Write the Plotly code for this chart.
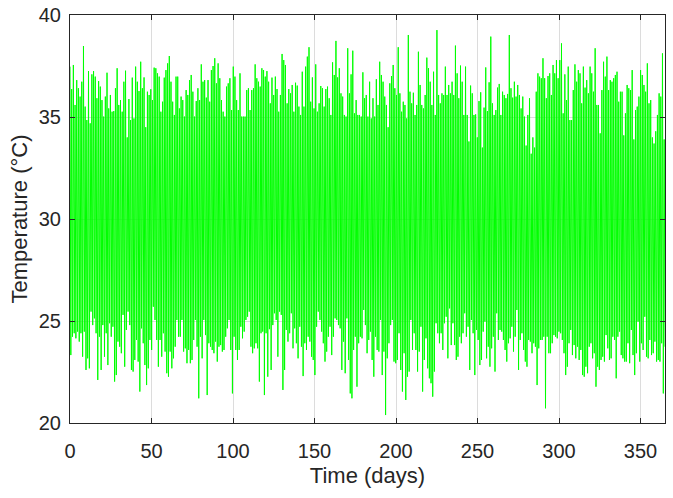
import numpy as np
import plotly.graph_objects as go

daily_high = [
    37.47, 36.37, 37.55, 35.59, 36.81, 36.41, 36.0, 36.73, 38.48, 35.51,
    34.85, 37.25, 34.69, 37.09, 37.25, 36.98, 35.92, 36.76, 36.49, 35.83,
    35.02, 36.0, 37.17, 35.42, 36.08, 35.26, 35.29, 36.41, 37.39, 35.59,
    35.83, 35.26, 36.73, 37.27, 34.0, 35.88, 34.85, 36.93, 34.93, 37.47,
    36.73, 36.27, 37.71, 36.41, 36.94, 34.5, 36.24, 36.08, 36.36, 35.83,
    37.42, 37.39, 37.14, 36.98, 35.26, 35.75, 36.93, 37.3, 37.63, 37.99,
    36.73, 35.75, 35.1, 36.98, 36.98, 35.42, 36.0, 35.83, 35.02, 36.32,
    36.08, 36.81, 37.06, 36.24, 35.02, 35.78, 36.41, 35.83, 37.58, 36.73,
    36.81, 35.95, 36.81, 35.75, 37.3, 37.5, 37.88, 36.65, 37.63, 36.9,
    35.83, 35.26, 35.02, 36.49, 36.65, 36.9, 35.34, 37.47, 36.98, 35.83,
    35.34, 37.14, 35.02, 35.02, 35.02, 36.32, 36.41, 35.34, 36.32, 36.41,
    37.58, 36.9, 36.73, 36.49, 37.39, 37.3,
    36.98, 37.25, 36.73, 35.67, 36.93, 36.08, 36.98, 36.37, 35.26,
    36.08, 38.09, 37.79, 37.55, 35.67, 36.37, 36.16, 36.57, 35.26, 36.68,
    36.54, 35.51, 35.1, 37.22, 35.51, 37.47, 37.96, 38.42, 35.75, 36.94,
    35.42, 37.58, 35.26, 35.67, 36.52, 36.41, 35.51, 36.37, 36.49, 35.92,
    35.1, 37.68, 37.06, 38.73, 36.94, 37.39, 36.16, 36.0, 35.1, 35.02,
    38.37, 36.16, 37.09, 38.25, 35.18, 35.83, 35.1, 35.1, 35.02, 37.19,
    35.92, 36.08, 35.02, 36.73, 34.93, 35.92, 35.02, 36.85, 35.59, 37.71,
    37.06, 36.73, 36.0, 35.59, 34.5, 36.65, 37.01, 37.55, 36.41, 36.08,
    38.42, 36.16, 35.26, 35.75, 35.59, 34.93, 39.02, 36.24, 35.67, 36.19,
    35.1, 35.59, 38.2, 36.57, 35.59, 35.42, 36.08, 37.91, 37.39, 36.73,
    35.59, 37.22, 35.1, 39.26, 36.08, 35.67, 36.16, 36.08, 37.47, 36.08,
    36.57, 36.16, 36.73, 36.08, 38.5, 37.14, 35.92, 37.52, 36.73, 35.1, 37.47,
    35.1, 33.8, 36.54, 36.16, 35.1, 35.13, 34.0, 35.78, 36.21, 33.5,
    35.46, 37.43, 35.29, 36.7, 38.94, 35.67, 35.1, 35.34, 36.44, 36.62,
    35.1, 36.24, 36.08, 35.92, 36.13, 39.02, 36.41, 35.95, 36.73, 36.0,
    36.57, 36.08, 35.42, 36.0, 35.02, 33.6, 35.1, 35.92, 33.2, 34.0, 33.5,
    36.24, 37.14, 36.98, 36.9, 37.88, 36.9, 35.92, 37.01, 37.14, 36.08,
    37.55, 37.14, 37.79, 36.9, 37.79, 38.61, 35.18, 37.09, 35.83, 37.47,
    34.85, 34.85, 36.32, 37.58, 36.73, 37.3, 37.14, 35.67, 37.47, 36.44,
    36.81, 36.16, 37.47, 37.14, 36.24, 38.37, 35.59, 35.59, 34.2, 36.32,
    37.71, 36.98, 37.96, 36.32, 36.81, 36.73, 36.9, 37.06, 37.22, 35.75,
    36.24, 36.24, 34.1, 35.18, 36.57, 36.41, 36.32, 37.3, 33.9, 35.34,
    35.51, 36.0, 37.3, 37.06, 36.57, 36.24, 37.63, 35.67, 35.83, 34.0,
    33.7, 34.3, 35.1, 36.16, 36.0, 38.12, 33.9,
]

daily_low = [
    23.33, 24.23, 24.4, 24.15, 24.48, 23.99, 24.4, 23.25, 24.48, 22.6,
    23.17, 22.68, 25.46, 24.8, 25.13, 24.4, 22.11, 24.23, 22.6, 24.8,
    23.25, 24.4, 22.84, 24.89, 24.23, 24.72, 22.03, 22.35, 23.99, 23.74,
    23.42, 25.3, 22.76, 24.56, 25.46, 24.8, 22.6, 22.52, 23.09, 24.07,
    23.01, 21.54, 24.64, 23.91, 22.84, 21.86, 22.68, 24.07, 23.58, 25.7,
    25.05, 24.07, 22.76, 24.07, 23.25, 24.4, 23.5, 22.44, 22.27, 23.5,
    22.68, 23.17, 23.74, 25.05, 24.23, 24.23, 25.05, 23.5, 23.66, 22.93,
    23.58, 22.93, 23.09, 24.07, 25.05, 23.74, 21.21, 24.23, 23.17, 25.05,
    24.31, 21.37, 23.91, 23.74, 23.58, 23.42, 23.99, 23.01, 23.74, 23.82,
    23.5, 23.58, 24.23, 24.64, 25.05, 23.58, 21.45, 24.23, 23.58, 23.09,
    23.58, 24.72, 24.15, 24.48, 25.05, 25.21, 25.46, 23.74, 23.42, 23.66,
    23.91, 23.66, 22.03, 24.4, 24.48, 21.37, 24.4, 22.27,
    24.6, 22.6, 24.8, 25.38, 25.05, 23.25, 25.46, 25.3, 21.62, 22.6,
    24.56, 23.99, 24.4, 25.38, 23.66, 24.64, 23.91, 23.17, 24.72, 23.74,
    22.3, 23.91, 23.58, 24.23, 23.99, 23.25, 23.09, 22.35, 24.72, 25.46,
    25.05, 24.48, 23.91, 23.01, 23.5, 24.23, 24.72, 23.33, 24.23, 25.13,
    25.05, 24.8, 24.64, 22.6, 23.99, 22.44, 25.13, 23.09, 21.45, 21.21,
    23.58, 24.23, 21.78, 23.91, 24.23, 24.15, 25.54, 24.8, 23.42, 24.07,
    24.48, 23.09, 22.27, 24.23, 23.58, 23.5, 25.05, 22.35, 23.5, 20.39,
    23.17, 23.91, 24.8, 25.05, 23.01, 22.93, 23.09, 24.4, 22.6, 21.54,
    23.42, 21.13, 22.27, 22.52, 25.05, 23.58, 24.4, 23.58, 22.52, 23.5,
    24.72, 21.54, 23.09, 24.15, 22.68, 22.19, 21.95, 21.29, 22.52, 24.89,
    24.4, 23.91, 24.4, 23.58, 24.89, 25.21, 23.17, 25.62, 23.82, 24.89,
    23.82, 23.09, 23.25, 24.23, 23.91, 24.4, 25.38, 24.23, 24.72,
    22.6, 25.05, 24.4, 22.35, 24.56, 24.07, 22.84, 23.09, 24.48, 24.97,
    23.17, 23.74, 22.76, 23.66, 24.23, 22.52, 25.38, 24.07, 24.56, 24.48,
    24.07, 23.58, 23.01, 23.91, 24.15, 24.72, 23.5, 24.23, 25.54, 22.6,
    24.07, 24.4, 23.58, 23.01, 22.76, 24.07, 23.99, 23.42, 23.91, 23.74,
    21.86, 23.66, 24.07, 24.07, 24.23, 20.72, 24.23, 23.42, 23.42, 23.91,
    24.31, 24.23, 24.15, 24.48, 24.4, 24.07, 23.42, 22.35, 22.76, 23.91,
    24.56, 23.33, 23.82, 23.17, 23.74, 23.09, 23.58, 22.35, 22.27, 22.76,
    22.44, 23.74, 23.91, 23.17, 23.42, 21.78, 22.76, 22.6, 23.09, 23.25,
    23.01, 24.31, 23.66, 23.09, 23.17, 24.23, 24.07, 22.19, 24.23, 24.48,
    23.33, 23.17, 23.01, 23.01, 23.91, 22.93, 24.56, 23.33, 22.35, 23.42,
    24.97, 23.01, 23.91, 23.58, 25.21, 23.25, 23.17, 24.07, 23.33, 23.42,
    23.99, 23.01, 23.09, 23.01, 23.91, 21.45, 23.74, 23.91,
]

x_ticks = [0, 50, 100, 150, 200, 250, 300, 350]
y_ticks = [20, 25, 30, 35, 40]

n = min(len(daily_high), len(daily_low))
temperature = []
for h, l in zip(daily_high[:n], daily_low[:n]):
    temperature.extend([h, l])
time_days = np.linspace(0, 365, 2 * n)

fig = go.Figure(go.Scatter(
    x=time_days, y=temperature, mode="lines",
    line=dict(color="#00ff00", width=1), showlegend=False,
    hoverinfo="skip",
))

font_family = "Liberation Sans, Arial, sans-serif"
axis_common = dict(
    showline=True, linecolor="#262626", linewidth=1, mirror="ticks",
    ticks="inside", ticklen=5, tickcolor="#262626",
    showgrid=True, gridcolor="#dcdcdc", gridwidth=1, zeroline=False,
    automargin=False, ticklabeloverflow="allow",
    tickfont=dict(family=font_family, size=20, color="#262626"),
)
fig.update_layout(
    width=673, height=498,
    margin=dict(l=70, r=8, t=15, b=75),
    paper_bgcolor="white", plot_bgcolor="white",
    xaxis=dict(range=[0, 365], tickvals=x_ticks, ticklabelstandoff=10,
               title=dict(text="Time (days)", font=dict(family=font_family, size=22, color="#262626"), standoff=6),
               **axis_common),
    yaxis=dict(range=[20, 40], tickvals=y_ticks, ticklabelstandoff=4,
               title=dict(text="Temperature (°C)", font=dict(family=font_family, size=22, color="#262626"), standoff=5),
               **axis_common),
)
# remove the default 8px page margin so the figure fills the 673x498 window exactly
fig.write_html("out.html", config={"displayModeBar": False},
               post_script="document.body.style.margin='0px';")
